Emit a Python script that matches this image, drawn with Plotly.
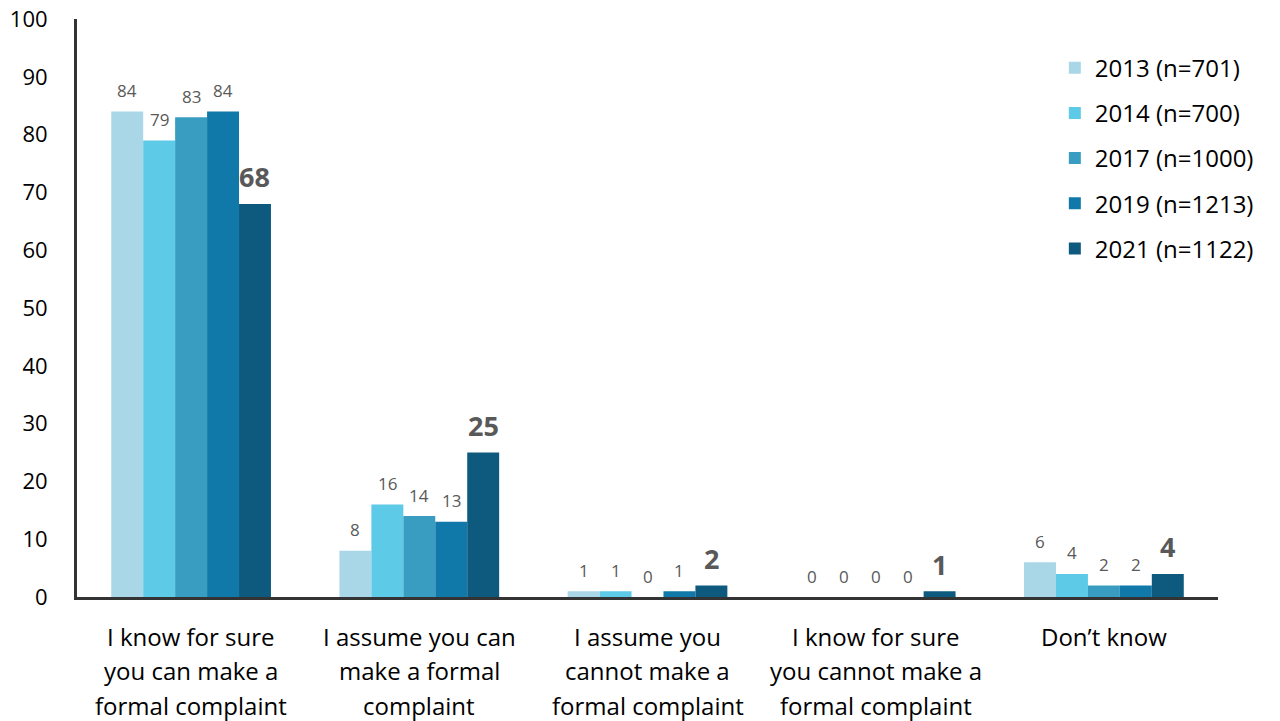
import plotly.graph_objects as go

# Survey answers (x categories), one bar series per survey year
categories = [
    "I know for sure<br>you can make a<br>formal complaint",
    "I assume you can<br>make a formal<br>complaint",
    "I assume you<br>cannot make a<br>formal complaint",
    "I know for sure<br>you cannot make a<br>formal complaint",
    "Don\u2019t know",
]
series_names = [
    "2013 (n=701)",
    "2014 (n=700)",
    "2017 (n=1000)",
    "2019 (n=1213)",
    "2021 (n=1122)",
]
values_2013 = [84, 8, 1, 0, 6]
values_2014 = [79, 16, 1, 0, 4]
values_2017 = [83, 14, 0, 0, 2]
values_2019 = [84, 13, 1, 0, 2]
values_2021 = [68, 25, 2, 1, 4]
series_values = [values_2013, values_2014, values_2017, values_2019, values_2021]
colors = ["#A9D7E7", "#5DCAE7", "#389DC0", "#1179A9", "#0E5A7E"]

y_ticks = [0, 10, 20, 30, 40, 50, 60, 70, 80, 90, 100]

W, H = 1280, 721
M_L, M_R, M_T, M_B = 77, 62, 19, 124
BARGAP = 0.3
FONT = "Open Sans, Liberation Sans, sans-serif"

fig = go.Figure()
for name, vals, col in zip(series_names, series_values, colors):
    fig.add_trace(go.Bar(
        x=list(range(len(categories))),
        y=vals,
        name=name,
        marker=dict(color=col, line=dict(width=0)),
        legendgroup=name,
    ))

# Value labels above each bar; the latest year is emphasised
plot_w = W - M_L - M_R
n_series = len(series_names)
bar_px = plot_w / len(categories) * (1 - BARGAP) / n_series
annotations = []
for i, vals in enumerate(series_values):
    latest = i == n_series - 1
    for j, v in enumerate(vals):
        annotations.append(dict(
            x=j, y=v, xref="x", yref="y",
            text=str(v),
            showarrow=False,
            xanchor="center", yanchor="middle",
            xshift=(i - (n_series - 1) / 2) * bar_px,
            yshift=27 if latest else 21,
            font=dict(family=FONT, size=27 if latest else 17,
                      color="#595959",
                      weight="bold" if latest else "normal"),
        ))

# Category labels beneath the axis, one line at a time
for j, cat in enumerate(categories):
    for k, line in enumerate(cat.split("<br>")):
        annotations.append(dict(
            x=j, y=0, xref="x", yref="paper",
            text=line, showarrow=False,
            xanchor="center", yanchor="middle",
            yshift=-39 - 34.5 * k,
            font=dict(family=FONT, size=24, color="#000000"),
        ))

fig.update_layout(
    width=W, height=H,
    margin=dict(l=M_L, r=M_R, t=M_T, b=M_B),
    paper_bgcolor="white", plot_bgcolor="white",
    barmode="group", bargap=BARGAP, bargroupgap=0,
    font=dict(family=FONT, color="#000000"),
    showlegend=True,
    legend=dict(
        x=0.857, y=0.954, xanchor="left", yanchor="top",
        font=dict(family=FONT, size=24, color="#000000"),
        traceorder="grouped", tracegroupgap=11,
        bgcolor="rgba(0,0,0,0)",
    ),
    annotations=annotations,
)
fig.update_xaxes(
    range=[-0.5, len(categories) - 0.5],
    showticklabels=False, ticks="",
    showline=True, linecolor="#333333", linewidth=3,
    showgrid=False, zeroline=False, automargin=False,
)
fig.update_yaxes(
    range=[0, 100], tickvals=y_ticks,
    ticks="", ticklabelstandoff=22,
    tickfont=dict(family=FONT, size=22, color="#000000"),
    showline=True, linecolor="#333333", linewidth=3,
    showgrid=False, zeroline=False, automargin=False,
)

fig.write_html("out.html")
